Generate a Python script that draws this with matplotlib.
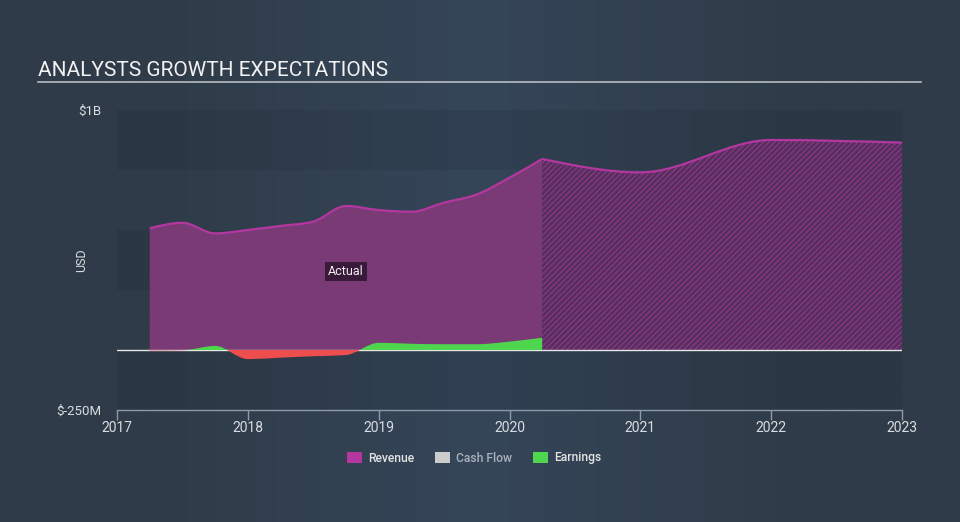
import numpy as np
import matplotlib
matplotlib.use('Agg')
import matplotlib.pyplot as plt
from matplotlib.path import Path
from matplotlib.patches import PathPatch, Rectangle
from matplotlib.lines import Line2D

plt.rcParams['font.family'] = ['Roboto', 'DejaVu Sans']
plt.rcParams['hatch.linewidth'] = 0.7

# ---------------- data (USD millions) ----------------
actual_x = [2017.25, 2017.5, 2017.75, 2018.0, 2018.25, 2018.5, 2018.75,
            2019.0, 2019.25, 2019.5, 2019.75, 2020.0, 2020.25]
revenue_actual = [507, 530, 486, 500, 517, 535, 600, 583, 576, 614, 648, 718, 796]
earnings_actual = [-2, -1, 17, -38, -32, -26, -21, 30, 26, 24, 24, 35, 51]
forecast_x = [2020.25, 2021.0, 2022.0, 2023.0]
revenue_forecast = [796, 740, 875, 864]

year_ticks = [2017, 2018, 2019, 2020, 2021, 2022, 2023]
year_labels = ['2017', '2018', '2019', '2020', '2021', '2022', '2023']
y_ticks = [-250, 1000]
y_labels = ['$-250M', '$1B']
legend_names = ['Revenue', 'Cash Flow', 'Earnings']

# ---------------- colours ----------------
REV_FILL = '#7a3a76'
REV_LINE = '#b3379f'
HATCH_BASE = '#55305c'
HATCH_LINE = '#9a3694'
GREEN = '#4fd64f'
RED = '#ee4e4e'
CASH = '#cccccc'


def mono_path(x, y, close=False):
    """Monotone-X cubic curve through the given points as a bezier Path."""
    x = np.asarray(x, float)
    y = np.asarray(y, float)
    n = len(x)
    h = np.diff(x)
    d = np.diff(y) / h
    m = np.zeros(n)
    for i in range(1, n - 1):
        if d[i - 1] * d[i] <= 0:
            m[i] = 0.0
        else:
            p = (d[i - 1] * h[i] + d[i] * h[i - 1]) / (h[i - 1] + h[i])
            m[i] = (np.sign(d[i - 1]) + np.sign(d[i])) * min(abs(d[i - 1]), abs(d[i]), 0.5 * abs(p))
    if n > 2:
        m[0] = (3 * d[0] - m[1]) / 2
        m[-1] = (3 * d[-1] - m[-2]) / 2
    else:
        m[:] = d[0]
    verts = [(x[0], y[0])]
    codes = [Path.MOVETO]
    for i in range(n - 1):
        hh = h[i] / 3
        verts += [(x[i] + hh, y[i] + m[i] * hh),
                  (x[i + 1] - hh, y[i + 1] - m[i + 1] * hh),
                  (x[i + 1], y[i + 1])]
        codes += [Path.CURVE4] * 3
    if close:
        verts += [(x[-1], 0), (x[0], 0), (x[0], y[0])]
        codes += [Path.LINETO, Path.LINETO, Path.CLOSEPOLY]
    return Path(verts, codes)


W, H = 960, 522
fig = plt.figure(figsize=(W / 100, H / 100), dpi=100)
fig.patch.set_facecolor('#313f4d')

# background gradient
bg = fig.add_axes([0, 0, 1, 1], zorder=-10)
bg.axis('off')
c_edge = np.array([0x2f, 0x3b, 0x48]) / 255
c_mid = np.array([0x35, 0x46, 0x59]) / 255
grad = np.array([c_edge, c_mid, c_edge])[None, :, :]
bg.imshow(grad, aspect='auto', interpolation='bilinear', extent=[0, 1, 0, 1])
bg.set_xlim(0, 1)
bg.set_ylim(0, 1)

ax = fig.add_axes([117 / W, (H - 410) / H, (902 - 117) / W, 300 / H])
ax.set_facecolor('none')
ax.set_xlim(2017, 2023)
ax.set_ylim(-250, 1000)

# bands
for lo, hi in [(750, 1000), (250, 500), (-250, 0)]:
    ax.axhspan(lo, hi, color='#1f2a36', alpha=0.2, lw=0, zorder=0)

# revenue actual
ax.add_patch(PathPatch(mono_path(actual_x, revenue_actual, close=True),
                       facecolor=REV_FILL, edgecolor='none', lw=0, zorder=2))
# revenue forecast (hatched)
ax.add_patch(PathPatch(mono_path(forecast_x, revenue_forecast, close=True),
                       facecolor=HATCH_BASE, edgecolor='none', lw=0, zorder=2))
ax.add_patch(PathPatch(mono_path(forecast_x, revenue_forecast, close=True),
                       facecolor='none', edgecolor=HATCH_LINE, hatch='//////', lw=0, zorder=2.1))
# revenue lines
for xs, ys in [(actual_x, revenue_actual), (forecast_x, revenue_forecast)]:
    ax.add_patch(PathPatch(mono_path(xs, ys), facecolor='none', edgecolor=REV_LINE,
                           lw=1.6, zorder=4, clip_on=False))

# zero line
ax.axhline(0, color='#e6e6e6', lw=1.0, zorder=3)

# earnings (green above zero, red below)
pos_clip = Rectangle((2016, 0), 10, 5000, transform=ax.transData)
neg_clip = Rectangle((2016, -5000), 10, 5000, transform=ax.transData)
pe = PathPatch(mono_path(actual_x, earnings_actual, close=True),
               facecolor=GREEN, edgecolor='none', lw=0, zorder=3.5)
ax.add_patch(pe)
pe.set_clip_path(pos_clip)
ne = PathPatch(mono_path(actual_x, earnings_actual, close=True),
               facecolor=RED, edgecolor='none', lw=0, zorder=3.5)
ax.add_patch(ne)
ne.set_clip_path(neg_clip)

# "Actual" label
ax.text(2018.75, 326, 'Actual', ha='center', va='center', fontsize=9,
        color='#eeeeee', zorder=6,
        bbox=dict(boxstyle='square,pad=0.25', facecolor='#3a1a3a', edgecolor='none'))

# axes styling
for s in ['top', 'right', 'left']:
    ax.spines[s].set_visible(False)
ax.spines['bottom'].set_color('#8d9aa8')
ax.spines['bottom'].set_linewidth(1.0)
ax.set_xticks(year_ticks)
ax.set_xticklabels(year_labels)
ax.tick_params(axis='x', direction='out', length=7, width=1, color='#8d9aa8',
               labelcolor='#d8dde2', labelsize=10, pad=1)
ax.set_yticks(y_ticks)
ax.set_yticklabels(y_labels)
ax.tick_params(axis='y', length=0, labelcolor='#d8dde2', labelsize=9.5, pad=11)

fig.text(81.7 / W, 1 - 260 / H, 'USD', rotation=90, ha='center', va='center',
         fontsize=9, color='#d8dde2')

# title
fig.text(38 / W, 1 - 76 / H, 'ANALYSTS GROWTH EXPECTATIONS', ha='left', va='baseline',
         fontsize=15, color='#f2f2f2')
fig.add_artist(Line2D([38 / W, 921 / W], [1 - 81.5 / H, 1 - 81.5 / H],
                      color='#b8bcc2', lw=1.2, transform=fig.transFigure))

# legend
legend_colors = [REV_LINE, CASH, GREEN]
legend_text_colors = ['#e4e4e4', '#a9b1ba', '#e4e4e4']
sq_x = [347, 435, 533]
for name, col, tcol, sx in zip(legend_names, legend_colors, legend_text_colors, sq_x):
    fig.add_artist(Rectangle((sx / W, 1 - 463 / H), 15 / W, 11 / H, facecolor=col,
                             edgecolor='none', transform=fig.transFigure))
    fig.text((sx + 21) / W, 1 - 458 / H, name, ha='left', va='center', fontsize=8.7,
             color=tcol, fontweight='medium')

fig.savefig('out.png', dpi=100, facecolor=fig.get_facecolor())
